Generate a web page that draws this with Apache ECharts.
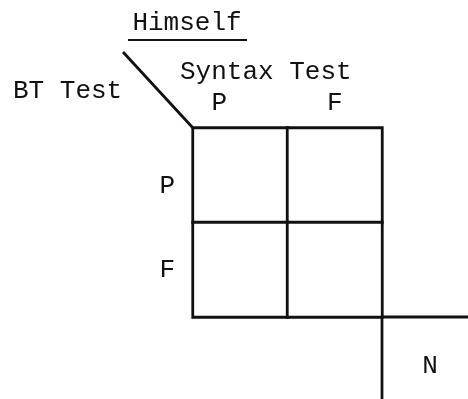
<!DOCTYPE html>
<html><head><meta charset="utf-8">
<script src="https://cdn.jsdelivr.net/npm/echarts@6/dist/echarts.min.js"></script>
<style>html,body{margin:0;padding:0;background:#fff}#c{width:468px;height:399px}</style>
</head><body><div id="c"></div>
<script>
const syntaxCats = ['P', 'F'];
const btCats = ['P', 'F'];
const cells = [[0,0,''],[1,0,''],[0,1,''],[1,1,'']];
const titleText = 'Himself';
const colTitle = 'Syntax Test';
const rowTitle = 'BT Test';
const extraLabel = 'N';

const FONT = 'Liberation Mono';
const FS = 26;
const INK = '#111';
const G = {left:193, top:128, w:189, h:189};

const chart = echarts.init(document.getElementById('c'), null, {renderer:'canvas'});
const txt = (x,y,t,align,extra) => Object.assign({type:'text', x, y, style:{text:t, font:FS+'px "'+FONT+'"', fill:INK, align:align||'left', verticalAlign:'middle'}}, extra||{});
const ln = (x1,y1,x2,y2,w) => ({type:'line', shape:{x1,y1,x2,y2}, style:{stroke:INK, lineWidth:w||2.8}});

chart.setOption({
  animation:false,
  backgroundColor:'#fff',
  grid:{left:G.left, top:G.top, width:G.w, height:G.h},
  xAxis:{type:'category', position:'top', data:syntaxCats,
    axisLine:{show:false}, axisTick:{show:false}, splitLine:{show:false},
    axisLabel:{interval:0, hideOverlap:false, margin:12, fontFamily:FONT, fontSize:FS, color:INK,
      formatter:(v,i)=> i===0 ? '{a|'+v+'}' : v,
      rich:{a:{fontFamily:FONT, fontSize:FS, color:INK, padding:[0,42,0,0]}}}},
  yAxis:{type:'category', inverse:true, data:btCats,
    axisLine:{show:false}, axisTick:{show:false}, splitLine:{show:false},
    axisLabel:{interval:0, hideOverlap:false, margin:18, fontFamily:FONT, fontSize:FS, color:INK,
      formatter:(v,i)=> i===0 ? '{a|'+v+'}' : v,
      rich:{a:{fontFamily:FONT, fontSize:FS, color:INK, padding:[22,0,0,0]}}}},
  series:[{type:'heatmap', data:cells,
    itemStyle:{color:'#fff', borderColor:INK, borderWidth:2.8},
    emphasis:{disabled:true}, label:{show:false}}],
  graphic:[
    txt(187, 23, titleText, 'center'),
    ln(128, 40, 247, 40, 2.2),
    txt(180, 72, colTitle),
    txt(13, 91, rowTitle),
    ln(123, 52, G.left, G.top, 2.8),
    ln(G.left+G.w, G.top+G.h, 468, G.top+G.h),
    ln(G.left+G.w, G.top+G.h, G.left+G.w, 399),
    txt(430, 366, extraLabel, 'center')
  ]
});
</script></body></html>
